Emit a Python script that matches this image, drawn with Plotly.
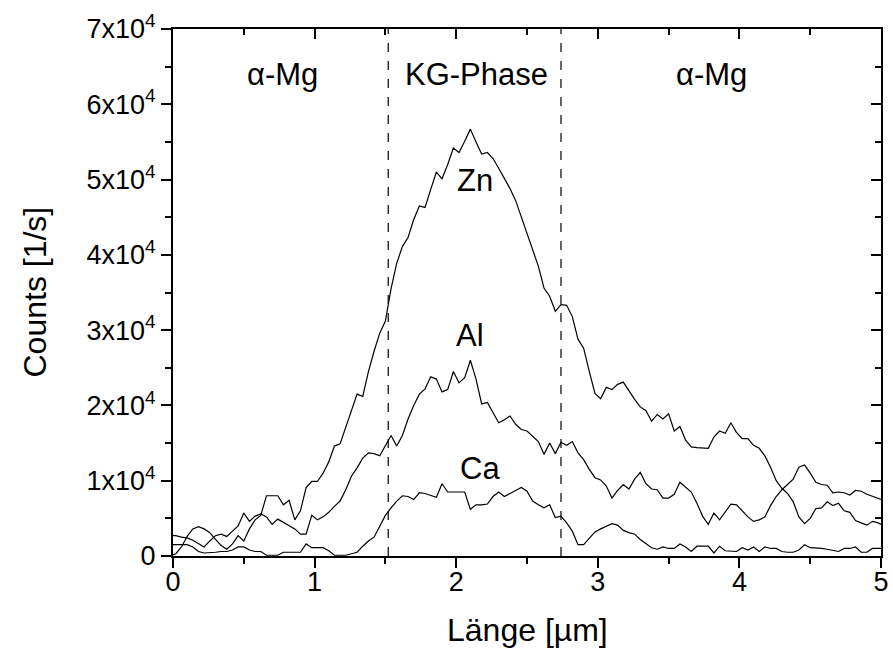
import plotly.graph_objects as go

# ---- data (counts in units of 1e4 counts/s) ----
STEP_UM = 0.04
N_POINTS = 127
POSITION_UM = [round(-0.02 + STEP_UM * i, 2) for i in range(N_POINTS)]

ZN_E4 = [
    0.00, 0.03, 0.12, 0.26, 0.36, 0.39, 0.36, 0.31, 0.22, 0.14,
    0.09, 0.16, 0.27, 0.20, 0.36, 0.48, 0.54, 0.80, 0.80, 0.80,
    0.68, 0.74, 0.48, 0.60, 0.91, 0.99, 0.99, 1.10, 1.25, 1.46,
    1.49, 1.72, 1.92, 2.15, 2.12, 2.45, 2.72, 2.96, 3.12, 3.55,
    3.89, 4.11, 4.23, 4.47, 4.65, 4.63, 4.87, 5.10, 5.01, 5.20,
    5.42, 5.36, 5.51, 5.67, 5.50, 5.34, 5.36, 5.28, 5.15, 5.02,
    4.88, 4.72, 4.50, 4.30, 4.06, 3.85, 3.56, 3.45, 3.25, 3.34,
    3.33, 3.18, 2.88, 2.76, 2.45, 2.16, 2.09, 2.24, 2.21, 2.28,
    2.31, 2.19, 2.08, 1.98, 1.93, 1.79, 1.88, 1.82, 1.89, 1.66,
    1.72, 1.54, 1.45, 1.44, 1.44, 1.43, 1.58, 1.66, 1.63, 1.77,
    1.64, 1.56, 1.56, 1.47, 1.43, 1.33, 1.18, 1.00, 0.90, 0.83,
    0.72, 0.52, 0.43, 0.50, 0.63, 0.64, 0.72, 0.67, 0.70, 0.60,
    0.58, 0.47, 0.44, 0.41, 0.46, 0.44, 0.40,
]

AL_E4 = [
    0.27, 0.27, 0.25, 0.24, 0.21, 0.16, 0.12, 0.20, 0.27, 0.29,
    0.26, 0.33, 0.40, 0.57, 0.46, 0.53, 0.56, 0.52, 0.42, 0.49,
    0.45, 0.40, 0.36, 0.29, 0.29, 0.54, 0.48, 0.52, 0.58, 0.66,
    0.73, 0.88, 1.06, 1.17, 1.30, 1.37, 1.36, 1.33, 1.46, 1.60,
    1.46, 1.60, 1.82, 2.00, 2.15, 2.22, 2.38, 2.35, 2.18, 2.21,
    2.45, 2.30, 2.37, 2.60, 2.35, 2.02, 2.04, 1.90, 1.77, 1.81,
    1.86, 1.75, 1.68, 1.66, 1.59, 1.52, 1.35, 1.50, 1.36, 1.51,
    1.47, 1.52, 1.37, 1.28, 1.15, 1.04, 1.01, 0.93, 0.77, 0.87,
    0.95, 0.89, 1.02, 1.11, 0.96, 0.89, 0.88, 0.77, 0.77, 0.82,
    0.98, 0.91, 0.85, 0.70, 0.53, 0.42, 0.57, 0.48, 0.58, 0.69,
    0.68, 0.60, 0.52, 0.46, 0.48, 0.52, 0.67, 0.79, 0.88, 0.95,
    1.02, 1.18, 1.21, 1.10, 0.98, 0.95, 0.94, 0.84, 0.85, 0.84,
    0.81, 0.87, 0.86, 0.82, 0.79, 0.76, 0.74,
]

CA_E4 = [
    0.15, 0.15, 0.15, 0.15, 0.12, 0.06, 0.04, 0.04, 0.05, 0.06,
    0.06, 0.08, 0.12, 0.12, 0.08, 0.06, 0.06, 0.01, 0.01, 0.01,
    0.05, 0.05, 0.05, 0.05, 0.16, 0.11, 0.11, 0.11, 0.07, 0.01,
    0.01, 0.01, 0.03, 0.05, 0.13, 0.20, 0.25, 0.40, 0.54, 0.64,
    0.73, 0.80, 0.79, 0.75, 0.84, 0.83, 0.80, 0.78, 0.96, 0.85,
    0.85, 0.85, 0.85, 0.62, 0.68, 0.68, 0.69, 0.79, 0.85, 0.79,
    0.83, 0.88, 0.91, 0.86, 0.73, 0.68, 0.64, 0.68, 0.51, 0.53,
    0.44, 0.33, 0.15, 0.15, 0.24, 0.32, 0.36, 0.39, 0.43, 0.41,
    0.34, 0.31, 0.29, 0.22, 0.17, 0.11, 0.09, 0.12, 0.10, 0.10,
    0.16, 0.12, 0.06, 0.13, 0.13, 0.13, 0.04, 0.13, 0.07, 0.07,
    0.06, 0.11, 0.08, 0.12, 0.06, 0.12, 0.10, 0.10, 0.06, 0.05,
    0.05, 0.08, 0.15, 0.11, 0.11, 0.10, 0.09, 0.08, 0.06, 0.10,
    0.10, 0.12, 0.05, 0.05, 0.10, 0.10, 0.10,
]

UNIT = 1e4
Y_TICK_VALUES = [0, 1, 2, 3, 4, 5, 6, 7]
Y_TICK_LABELS = ["0"] + [f"{v}x10<sup>4</sup>" for v in Y_TICK_VALUES[1:]]
X_TICK_VALUES = [0, 1, 2, 3, 4, 5]

PHASE_BOUNDARIES_UM = [1.52, 2.74]
REGION_LABELS = ["α-Mg", "KG-Phase", "α-Mg"]
REGION_LABEL_X = [0.77, 2.14, 3.80]
REGION_LABEL_Y_E4 = 6.39

ELEMENT_NAMES = ["Zn", "Al", "Ca"]
ELEMENT_LABEL_X = [2.13, 2.10, 2.17]
ELEMENT_LABEL_Y_E4 = [4.99, 2.93, 1.16]

X_TITLE = "Länge [µm]"
Y_TITLE = "Counts [1/s]"

FONT = "Liberation Sans, Arial, Helvetica, sans-serif"
LABEL_SIZE = 31
TICK_SIZE = 27
TITLE_SIZE = 32

fig = go.Figure()
for series in (ZN_E4, AL_E4, CA_E4):
    fig.add_trace(go.Scatter(
        x=POSITION_UM, y=[v * UNIT for v in series], mode="lines",
        line=dict(color="black", width=1.2), showlegend=False, hoverinfo="skip"))

# empty traces on helper axes (mirror ticks on top/right, bottom tick labels)
fig.add_trace(go.Scatter(x=[None], y=[None], xaxis="x2", yaxis="y2",
                         showlegend=False, hoverinfo="skip"))
fig.add_trace(go.Scatter(x=[None], y=[None], xaxis="x3", yaxis="y",
                         showlegend=False, hoverinfo="skip"))

for b in PHASE_BOUNDARIES_UM:
    fig.add_vline(x=b, line=dict(color="black", width=1.2, dash="dash"))

for txt, xv in zip(REGION_LABELS, REGION_LABEL_X):
    fig.add_annotation(x=xv, y=REGION_LABEL_Y_E4 * UNIT, text=txt, showarrow=False,
                       font=dict(family=FONT, size=LABEL_SIZE, color="black"))
for txt, xv, yv in zip(ELEMENT_NAMES, ELEMENT_LABEL_X, ELEMENT_LABEL_Y_E4):
    fig.add_annotation(x=xv, y=yv * UNIT, text=txt, showarrow=False,
                       font=dict(family=FONT, size=LABEL_SIZE, color="black"))

# axis titles
fig.add_annotation(xref="paper", yref="paper", x=0.5, y=0, yanchor="middle",
                   yshift=-74, text=X_TITLE, showarrow=False,
                   font=dict(family=FONT, size=TITLE_SIZE, color="black"))
fig.add_annotation(xref="paper", yref="paper", x=0, y=0.5, xanchor="center",
                   xshift=-139, textangle=-90, text=Y_TITLE, showarrow=False,
                   font=dict(family=FONT, size=TITLE_SIZE, color="black"))

axis_common = dict(showgrid=False, zeroline=False, linecolor="black",
                   tickcolor="black", tickwidth=1.5, automargin=False)

fig.update_layout(
    width=893, height=655,
    margin=dict(l=173, r=12, t=29, b=99, autoexpand=False),
    paper_bgcolor="white", plot_bgcolor="white",
    font=dict(family=FONT, size=TICK_SIZE, color="black"),
    xaxis=dict(range=[0, 5], tickvals=X_TICK_VALUES, ticks="outside", ticklen=10,
               showline=True, linewidth=2, mirror=True, showticklabels=False,
               minor=dict(ticks="outside", ticklen=6, dtick=0.5, tick0=0,
                          tickcolor="black", tickwidth=1.5),
               **axis_common),
    xaxis3=dict(overlaying="x", side="bottom", matches="x", range=[0, 5],
                tickvals=X_TICK_VALUES, ticks="outside", ticklen=2,
                showline=False, showgrid=False, zeroline=False, automargin=False,
                tickcolor="rgba(0,0,0,0)", tickfont=dict(size=TICK_SIZE)),
    yaxis=dict(range=[0, 7 * UNIT], tickvals=[v * UNIT for v in Y_TICK_VALUES],
               ticktext=Y_TICK_LABELS, ticks="outside", ticklen=10,
               showline=True, linewidth=2, mirror=True,
               minor=dict(ticks="outside", ticklen=6, dtick=0.5 * UNIT, tick0=0,
                          tickcolor="black", tickwidth=1.5),
               tickfont=dict(size=TICK_SIZE), **axis_common),
    xaxis2=dict(overlaying="x", side="top", matches="x", range=[0, 5],
                tickvals=X_TICK_VALUES, ticks="inside", ticklen=10,
                showticklabels=False, showline=False,
                minor=dict(ticks="inside", ticklen=6, dtick=0.5, tick0=0,
                           tickcolor="black", tickwidth=1.5),
                **axis_common),
    yaxis2=dict(overlaying="y", side="right", matches="y", range=[0, 7 * UNIT],
                tickvals=[v * UNIT for v in Y_TICK_VALUES], ticks="inside", ticklen=10,
                showticklabels=False, showline=False,
                minor=dict(ticks="inside", ticklen=6, dtick=0.5 * UNIT, tick0=0,
                           tickcolor="black", tickwidth=1.5),
                **axis_common),
)

fig.write_html("out.html",
               config={"displayModeBar": False},
               post_script="document.body.style.margin='0px';"
                           "document.body.style.overflow='hidden';")
